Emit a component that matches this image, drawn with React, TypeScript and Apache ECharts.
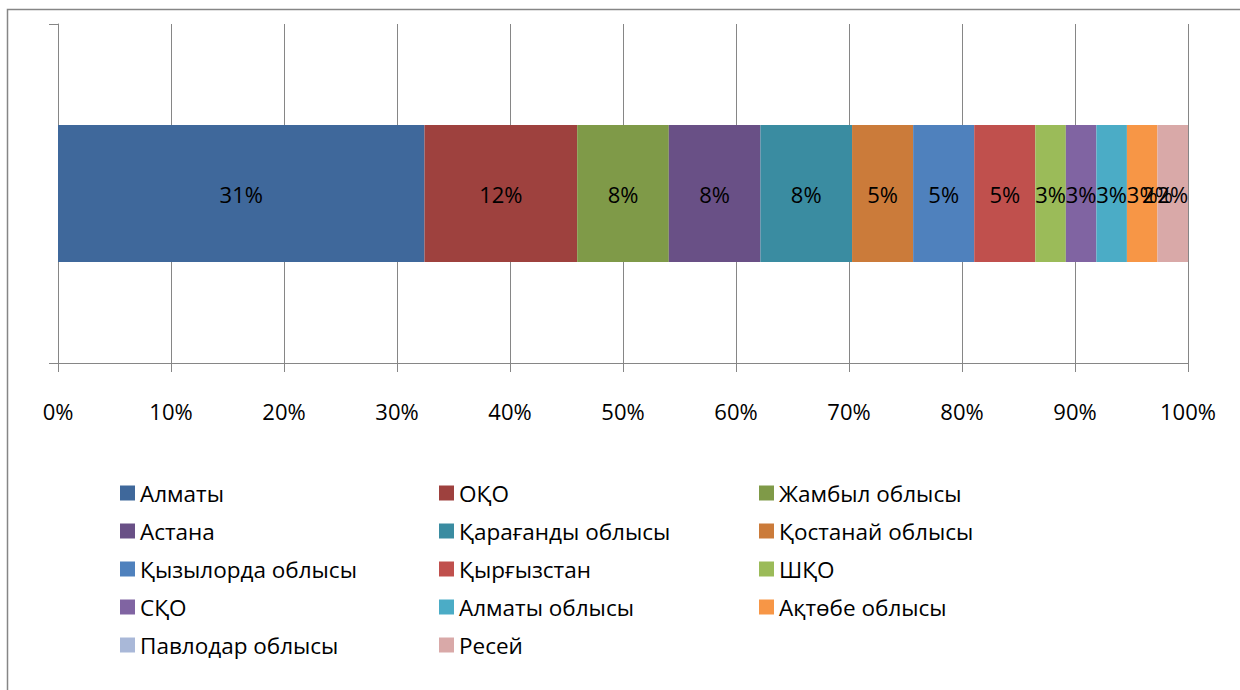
import React, { useEffect, useRef } from "react";
import * as echarts from "echarts";

const categories = [""];
const seriesNames = [
  "Алматы",
  "ОҚО",
  "Жамбыл облысы",
  "Астана",
  "Қарағанды облысы",
  "Қостанай облысы",
  "Қызылорда облысы",
  "Қырғызстан",
  "ШҚО",
  "СҚО",
  "Алматы облысы",
  "Ақтөбе облысы",
  "Павлодар облысы",
  "Ресей",
];
const counts = [12, 5, 3, 3, 3, 2, 2, 2, 1, 1, 1, 1, 0, 1];
const labelTexts = ["31%", "12%", "8%", "8%", "8%", "5%", "5%", "5%", "3%", "3%", "3%", "3%", "2%", "2%"];
const colors = [
  "#3F689B",
  "#9E413E",
  "#7F9A48",
  "#695086",
  "#3A8CA1",
  "#CB7B3A",
  "#4F81BD",
  "#C0504D",
  "#9BBB59",
  "#8064A2",
  "#4BACC6",
  "#F79646",
  "#A9B8D8",
  "#D9A9A8",
];

const FONT = "'Open Sans', sans-serif";
const GRAY = "#868686";

export default function App() {
  const ref = useRef<HTMLDivElement>(null);

  useEffect(() => {
    document.body.style.margin = "0";
    if (!ref.current) return;
    const chart = echarts.init(ref.current, undefined, { renderer: "svg" });
    const total = counts.reduce((a, b) => a + b, 0);

    const series = seriesNames.map((name, i) => ({
      name,
      type: "bar",
      stack: "all",
      barWidth: 137,
      data: [(counts[i] / total) * 100],
      itemStyle: { color: colors[i] },
      label: {
        show: true,
        position: "inside",
        formatter: () => labelTexts[i],
        color: "#000",
        fontSize: 22,
        fontFamily: FONT,
      },
    }));

    const legendCol = (col: number, left: number) => ({
      orient: "vertical",
      left,
      top: 481.5,
      padding: 0,
      itemWidth: 15,
      itemHeight: 15,
      itemGap: 15,
      icon: "rect",
      selectedMode: false,
      data: seriesNames.filter((_, i) => i % 3 === col),
      textStyle: { fontSize: 22.5, fontFamily: FONT, color: "#000", lineHeight: 22.5 },
    });

    chart.setOption({
      animation: false,
      color: colors,
      grid: { left: 58, right: 52, top: 24, bottom: 327, containLabel: false },
      xAxis: {
        type: "value",
        min: 0,
        max: 100,
        interval: 10,
        axisLine: { show: true, lineStyle: { color: GRAY, width: 1 } },
        axisTick: { show: true, length: 9, lineStyle: { color: GRAY } },
        splitLine: { show: true, lineStyle: { color: GRAY, width: 1 } },
        axisLabel: {
          formatter: "{value}%",
          fontSize: 22,
          fontFamily: FONT,
          color: "#000",
          margin: 37,
        },
      },
      yAxis: {
        type: "category",
        data: categories,
        axisLine: { show: true, lineStyle: { color: GRAY, width: 1 } },
        axisTick: { show: true, length: 9, lineStyle: { color: GRAY } },
        axisLabel: { show: false },
        splitLine: { show: false },
      },
      legend: [legendCol(0, 120), legendCol(1, 439), legendCol(2, 759)],
      graphic: [
        {
          type: "rect",
          shape: { x: 7.5, y: 9.5, width: 1300, height: 800 },
          style: { fill: "none", stroke: GRAY, lineWidth: 1.5 },
          silent: true,
        },
      ],
      series,
    });

    return () => chart.dispose();
  }, []);

  return <div ref={ref} style={{ width: 1240, height: 690 }} />;
}
